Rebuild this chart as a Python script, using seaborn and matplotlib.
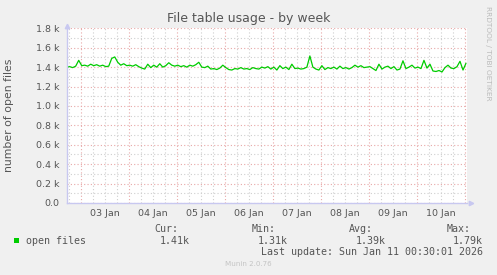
import numpy as np
import pandas as pd
import matplotlib
matplotlib.use("Agg")
import matplotlib.pyplot as plt
import matplotlib.dates as mdates
from matplotlib.ticker import MultipleLocator, FuncFormatter, NullFormatter
import seaborn as sns

# ---------------- data ----------------
title = "File table usage - by week"
ylabel = "number of open files"
series_name = "open files"
start_time = "2026-01-02 17:00"
end_time = "2026-01-11 00:30"
open_files = [
    1400, 1405, 1395, 1410, 1470, 1415, 1420, 1410, 1430, 1415,
    1425, 1410, 1420, 1405, 1410, 1490, 1505, 1450, 1420, 1435,
    1415, 1420, 1410, 1425, 1405, 1390, 1380, 1430, 1395, 1420,
    1400, 1435, 1400, 1415, 1445, 1420, 1410, 1420, 1405, 1415,
    1400, 1420, 1410, 1425, 1450, 1400, 1395, 1410, 1380, 1385,
    1375, 1390, 1420, 1395, 1375, 1370, 1385, 1380, 1395, 1380,
    1385, 1375, 1395, 1385, 1380, 1400, 1390, 1405, 1380, 1400,
    1370, 1415, 1385, 1400, 1375, 1430, 1385, 1390, 1380, 1385,
    1400, 1515, 1400, 1380, 1370, 1415, 1375, 1395, 1385, 1400,
    1380, 1410, 1385, 1395, 1380, 1395, 1420, 1400, 1415, 1395,
    1400, 1405, 1385, 1365, 1430, 1380, 1400, 1410, 1385, 1405,
    1370, 1380, 1465, 1385, 1400, 1420, 1390, 1400, 1385, 1470,
    1390, 1430, 1360, 1355, 1365, 1350, 1395, 1420, 1390, 1385,
    1405, 1460, 1370, 1440,
]
stat_labels = ["Cur:", "Min:", "Avg:", "Max:"]
stat_values = ["1.41k", "1.31k", "1.39k", "1.79k"]
last_update = "Last update: Sun Jan 11 00:30:01 2026"
footer = "Munin 2.0.76"
side_text = "RRDTOOL / TOBI OETIKER"
y_max = 1800

times = pd.date_range(start_time, end_time, periods=len(open_files))
df = pd.DataFrame({"time": times, "value": open_files})

# ---------------- figure ----------------
W, H = 497, 275
sns.set_style("white")
plt.rcParams["font.family"] = ["DejaVu Sans"]
fig = plt.figure(figsize=(W / 100, H / 100), dpi=100, facecolor="#F0F0F0")

def fx(px):
    return px / W

def fy(py):
    return 1 - py / H

left, right, top, bottom = 66.7, 467.0, 28.3, 203.0
ax = fig.add_axes([fx(left), fy(bottom), (right - left) / W, (bottom - top) / H])
ax.set_facecolor("white")

axis_col = "#C8C8F0"
red_grid = "#E8A8A8"
gray_grid = "#CFCFCF"

sns.lineplot(data=df, x="time", y="value", ax=ax, color="#00CC00", linewidth=0.9, zorder=5)

ax.set_xlim(pd.Timestamp("2026-01-02 17:00"), pd.Timestamp("2026-01-11 01:00"))
ax.set_ylim(0, y_max)

# y axis
ax.yaxis.set_major_locator(MultipleLocator(200))
ax.yaxis.set_minor_locator(MultipleLocator(100))
ax.yaxis.set_major_formatter(FuncFormatter(lambda v, p: "0.0" if v == 0 else f"{v/1000:.1f} k"))
ax.grid(which="major", axis="y", color=red_grid, linestyle=(0, (1, 2)), linewidth=0.8, zorder=1)
ax.grid(which="minor", axis="y", color=gray_grid, linestyle=(0, (1, 2)), linewidth=0.8, zorder=1)

# x axis: grid at midnight (red) and every 6h (gray)
ax.xaxis.set_major_locator(mdates.HourLocator(byhour=[0]))
ax.xaxis.set_minor_locator(mdates.HourLocator(byhour=[6, 12, 18]))
ax.xaxis.set_major_formatter(NullFormatter())
ax.xaxis.set_minor_formatter(NullFormatter())
ax.grid(which="major", axis="x", color=red_grid, linestyle=(0, (1, 2)), linewidth=0.8, zorder=1)
ax.grid(which="minor", axis="x", color=gray_grid, linestyle=(0, (1, 2)), linewidth=0.8, zorder=1)
ax.tick_params(axis="x", which="major", length=2, color=red_grid, direction="out")
ax.tick_params(axis="x", which="minor", length=0)
ax.tick_params(axis="y", which="major", length=2, color=red_grid, direction="out",
               labelsize=6.8, labelcolor="#555555", pad=3)
ax.tick_params(axis="y", which="minor", length=0)

sec = ax.secondary_xaxis("bottom")
sec.xaxis.set_major_locator(mdates.HourLocator(byhour=[12]))
sec.xaxis.set_major_formatter(mdates.DateFormatter("%d %b"))
sec.tick_params(length=0, labelsize=6.8, labelcolor="#555555", pad=4)
for s in sec.spines.values():
    s.set_visible(False)

for s in ["top", "right"]:
    ax.spines[s].set_visible(False)
for s in ["left", "bottom"]:
    ax.spines[s].set_color(axis_col)
    ax.spines[s].set_linewidth(1.0)
    ax.spines[s].set_zorder(6)

ax.set_xlabel("")
ax.set_ylabel("")

# axis arrows
ax.plot([0], [1.012], marker="^", markersize=3.2, color=axis_col, transform=ax.transAxes, clip_on=False)
ax.plot([1.011], [0], marker=">", markersize=3.2, color=axis_col, transform=ax.transAxes, clip_on=False)

# texts
fig.text(fx(248.5), fy(18.5), title, ha="center", va="center", fontsize=9, color="#555555")
fig.text(fx(9), fy(115.5), ylabel, ha="center", va="center", rotation=90, fontsize=7.8, color="#555555")
fig.text(fx(488), fy(53), side_text, ha="center", va="center", rotation=270, fontsize=5.3, color="#BBBBBB")

mono = "DejaVu Sans Mono"
fig.patches.append(plt.Rectangle((fx(14), fy(243)), 5 / W, 5 / H, transform=fig.transFigure,
                                 facecolor="#00CC00", edgecolor="none"))
fig.text(fx(26), fy(240.5), series_name, ha="left", va="center", fontsize=7.2, family=mono, color="#555555")
label_x = [154, 252, 349, 447]
value_x = [160, 258, 356, 453]
for lx, lab in zip(label_x, stat_labels):
    fig.text(fx(lx), fy(228.5), lab, ha="left", va="center", fontsize=7.2, family=mono, color="#555555")
for vx, val in zip(value_x, stat_values):
    fig.text(fx(vx), fy(240.5), val, ha="left", va="center", fontsize=7.2, family=mono, color="#555555")
fig.text(fx(483), fy(252), last_update, ha="right", va="center", fontsize=7.2, family=mono, color="#555555")
fig.text(fx(248), fy(264.5), footer, ha="center", va="center", fontsize=5.1, color="#C4C4C4")

fig.savefig("out.png", dpi=100, facecolor=fig.get_facecolor())
